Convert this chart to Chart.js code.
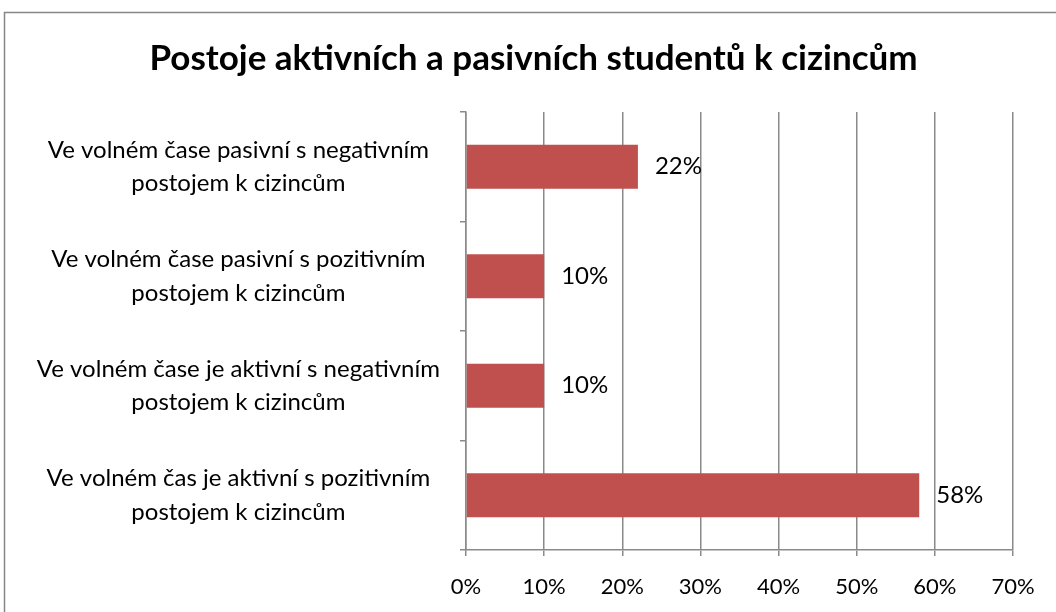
<!DOCTYPE html>
<html>
<head>
<meta charset="utf-8">
<script src="https://cdn.jsdelivr.net/npm/chart.js@4/dist/chart.umd.min.js"></script>
<style>
  html, body { margin: 0; padding: 0; background: #fff; }
  #wrap { width: 1056px; height: 612px; }
</style>
</head>
<body>
<div id="wrap"><canvas id="chart" width="1056" height="612"></canvas></div>
<script>
// Chart data
const chartTitle = 'Postoje aktivních a pasivních studentů k cizincům';
const categories = [
    ['Ve volném čase pasivní s negativním', 'postojem k cizincům'],
    ['Ve volném čase pasivní s pozitivním', 'postojem k cizincům'],
    ['Ve volném čase je aktivní s negativním', 'postojem k cizincům'],
    ['Ve volném čas je aktivní s pozitivním', 'postojem k cizincům']
];
const shares = [22, 10, 10, 58];
const axisMax = 70;
const axisStep = 10;

const fontFamily = 'Lato, "Open Sans", sans-serif';
const gridColor = '#8a8a8a';

// Draws the grey outer frame of the chart
const framePlugin = {
    id: 'frame',
    beforeDraw(chart) {
        const ctx = chart.ctx;
        ctx.save();
        ctx.fillStyle = '#ffffff';
        ctx.fillRect(0, 0, chart.width, chart.height);
        ctx.strokeStyle = '#868686';
        ctx.lineWidth = 1.5;
        ctx.strokeRect(4.5, 12.5, chart.width + 20, chart.height + 20);
        ctx.restore();
    },
    // centre the title over the whole frame, not just the padded area
    afterLayout(chart) {
        chart.titleBlock.left = 54;
    }
};

// Writes the percentage next to each bar
const valueLabelPlugin = {
    id: 'valueLabels',
    afterDatasetsDraw(chart) {
        const ctx = chart.ctx;
        const meta = chart.getDatasetMeta(0);
        ctx.save();
        ctx.font = '24px ' + fontFamily;
        ctx.fillStyle = '#000';
        ctx.textBaseline = 'middle';
        ctx.textAlign = 'left';
        meta.data.forEach((bar, i) => {
            ctx.fillText(shares[i] + '%', bar.x + 17, bar.y);
        });
        ctx.restore();
    }
};

new Chart(document.getElementById('chart').getContext('2d'), {
    type: 'bar',
    data: {
        labels: categories,
        datasets: [{
            data: shares,
            backgroundColor: '#C0504D',
            borderWidth: 0,
            categoryPercentage: 1,
            barPercentage: 0.4
        }]
    },
    options: {
        indexAxis: 'y',
        responsive: false,
        animation: false,
        layout: { padding: { left: 0, right: 43, top: 0, bottom: 0 } },
        plugins: {
            legend: { display: false },
            tooltip: { enabled: false },
            title: {
                display: true,
                text: chartTitle,
                color: '#000',
                font: { family: fontFamily, size: 35, weight: 'bold' },
                padding: { top: 38, bottom: 32 }
            }
        },
        scales: {
            x: {
                min: 0,
                max: axisMax,
                ticks: {
                    stepSize: axisStep,
                    color: '#000',
                    font: { family: fontFamily, size: 22 },
                    padding: 18,
                    callback: v => v + '%'
                },
                grid: { color: gridColor, lineWidth: 1.5, tickLength: 6 },
                border: { color: gridColor, width: 1.5 },
                afterFit: s => { s.height = 62; }
            },
            y: {
                ticks: {
                    color: '#000',
                    font: { family: fontFamily, size: 24, lineHeight: 1.38 },
                    crossAlign: 'center',
                    padding: 20
                },
                grid: { drawOnChartArea: false, color: gridColor, lineWidth: 1.5, tickLength: 6 },
                border: { color: gridColor, width: 1.5 },
                afterFit: s => { s.width = 466; }
            }
        }
    },
    plugins: [framePlugin, valueLabelPlugin]
});
</script>
</body>
</html>
